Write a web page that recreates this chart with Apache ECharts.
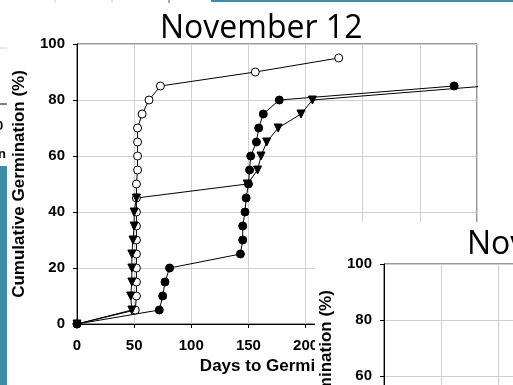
<!DOCTYPE html>
<html>
<head>
<meta charset="utf-8">
<script src="https://cdn.jsdelivr.net/npm/echarts@6/dist/echarts.min.js"></script>
<style>
  html, body { margin: 0; padding: 0; background: #fff; }
  #chart { width: 513px; height: 385px; }
</style>
</head>
<body>
<div id="chart"></div>
<script>
// data (days, cumulative %)
const openDays = [0, 51, 52, 52, 52, 52, 52, 52, 52, 52, 52, 53, 53, 53, 53, 57, 63, 73, 156, 229]
const openPct = [0, 5, 10, 15, 20, 25, 30, 35, 40, 45, 50, 55, 60, 65, 70, 75, 80, 85, 90, 95]
const filledDays = [0, 72, 75, 77, 81, 143, 145, 145, 147, 148, 150, 151, 152, 157, 159, 163, 177, 330]
const filledPct = [0, 5, 10, 15, 20, 25, 30, 35, 40, 45, 50, 55, 60, 65, 70, 75, 80, 85]
const triDays = [0, 48, 47, 48, 48, 48, 49, 50, 50, 52, 149, 158, 161, 166, 176, 196, 206, 358]
const triPct = [0, 5, 10, 15, 20, 25, 30, 35, 40, 45, 50, 55, 60, 65, 70, 75, 80, 85]

const titleText = 'November 12'
const xName = 'Days to Germination'
const yName = 'Cumulative Germination (%)'

const pairs = (xs, ys) => xs.map((x, i) => [x, ys[i]])

const chart = echarts.init(document.getElementById('chart'))

const labelFont = { fontFamily: 'Liberation Sans', fontWeight: 'bold', fontSize: 15, color: '#000' }
const nameFont = { fontFamily: 'Liberation Sans', fontWeight: 'bold', fontSize: 17, color: '#000' }

function xAxisFor(gridIndex, z) {
  return {
    type: 'value', gridIndex, z,
    min: 0, max: 350, interval: 50,
    name: xName, nameLocation: 'middle', nameGap: 30,
    nameTextStyle: { ...nameFont, padding: [0, 0, 0, 12] },
    axisLine: { show: true, lineStyle: { color: '#000', width: 1 } },
    axisTick: { show: true, length: 4, lineStyle: { color: '#000' } },
    axisLabel: { ...labelFont, margin: 14 },
    splitLine: { show: true, lineStyle: { color: '#d0d0d0', width: 1 } }
  }
}

function yAxisFor(gridIndex, z) {
  return {
    type: 'value', gridIndex, z,
    min: 0, max: 100, interval: 20,
    name: yName, nameLocation: 'middle', nameGap: 49,
    nameTextStyle: { ...nameFont },
    axisLine: { show: true, lineStyle: { color: '#000', width: 1 } },
    axisTick: { show: true, length: 4, lineStyle: { color: '#000' } },
    axisLabel: { ...labelFont, margin: 12 },
    splitLine: { show: true, lineStyle: { color: '#d0d0d0', width: 1 } }
  }
}

const lineBase = {
  type: 'line', xAxisIndex: 0, yAxisIndex: 0,
  symbolSize: 8, clip: true, z: 3,
  lineStyle: { color: '#000', width: 1 },
  emphasis: { disabled: true },
  animation: false
}

const option = {
  animation: false,
  backgroundColor: '#fff',
  title: [
    { text: titleText, left: 155, top: 8, z: 6,
      textStyle: { fontFamily: 'Open Sans', fontWeight: 'normal', fontSize: 32, color: '#000' } },
    { text: 'November', left: 462, top: 224, z: 30,
      textStyle: { fontFamily: 'Open Sans', fontWeight: 'normal', fontSize: 32, color: '#000' } }
  ],
  grid: [
    { left: 77, top: 44, width: 400, height: 280, outerBoundsMode: 'none', containLabel: false,
      show: true, borderColor: '#333', borderWidth: 1, z: 0 },
    { left: 384, top: 264, width: 400, height: 280, outerBoundsMode: 'none', containLabel: false,
      show: true, borderColor: '#333', borderWidth: 1, backgroundColor: '#fff', z: 25 }
  ],
  xAxis: [xAxisFor(0, 0), xAxisFor(1, 30)],
  yAxis: [yAxisFor(0, 0), yAxisFor(1, 30)],
  series: [
    { ...lineBase, name: 'open', data: pairs(openDays, openPct), symbol: 'circle',
      itemStyle: { color: '#fff', borderColor: '#000', borderWidth: 1 } },
    { ...lineBase, name: 'filled', data: pairs(filledDays, filledPct), symbol: 'circle',
      itemStyle: { color: '#000', borderColor: '#000', borderWidth: 1 } },
    { ...lineBase, name: 'triangle', data: pairs(triDays, triPct), symbol: 'triangle', symbolRotate: 180,
      itemStyle: { color: '#000', borderColor: '#000', borderWidth: 1 } }
  ],
  graphic: [
    // white slide area of the overlapping chart
    { type: 'rect', shape: { x: 315, y: 222, width: 198, height: 163 }, style: { fill: '#fff' }, z: 20, silent: true },
    // teal bars and bits of the neighbouring slide
    { type: 'rect', shape: { x: 0, y: 166, width: 7, height: 219 }, style: { fill: '#3b8ea5' }, z: 40, silent: true },
    { type: 'rect', shape: { x: 211, y: 0, width: 302, height: 2 }, style: { fill: '#3b8ea5' }, z: 40, silent: true },
    { type: 'line', shape: { x1: 55, y1: 0, x2: 55, y2: 3 }, style: { stroke: '#ccc' }, z: 40 },
    { type: 'line', shape: { x1: 112, y1: 0, x2: 112, y2: 3 }, style: { stroke: '#ccc' }, z: 40 },
    { type: 'line', shape: { x1: 169, y1: 0, x2: 169, y2: 3 }, style: { stroke: '#555' }, z: 40 },
    { type: 'line', shape: { x1: 0, y1: 48, x2: 7, y2: 48 }, style: { stroke: '#ccc' }, z: 40 },
    { type: 'line', shape: { x1: 0, y1: 104, x2: 7, y2: 104 }, style: { stroke: '#000' }, z: 40 },
    { type: 'text', x: -4, y: 120, style: { text: '0', fill: '#000', font: 'bold 13px "Liberation Sans"' }, z: 40 },
    { type: 'text', x: -2, y: 148, style: { text: 'n', fill: '#000', font: 'bold 13px "Liberation Sans"' }, z: 40 }
  ]
}

chart.setOption(option)
</script>
</body>
</html>
